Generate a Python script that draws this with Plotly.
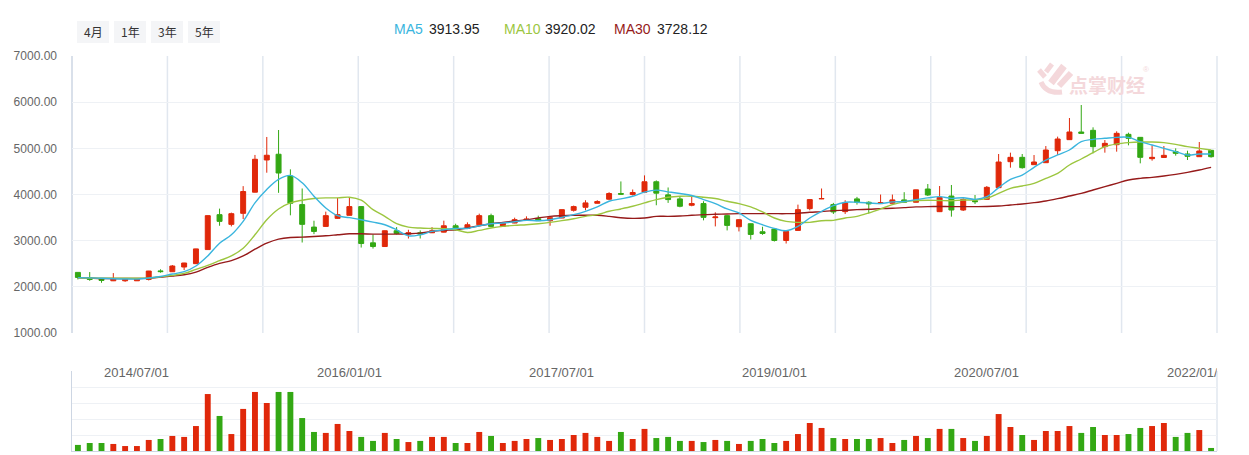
import plotly.graph_objects as go
import pandas as pd

# ---------------- data ----------------
months = [d.strftime("%Y/%m/01") for d in pd.date_range("2014-02-01", periods=97, freq="MS")]

open_ = [2313, 2197, 2168, 2131, 2131, 2131, 2160, 2345, 2327, 2429, 2502, 2807, 3563, 3353, 3592, 4050,
         4748, 4872, 4399, 3781, 3294, 3309, 3483, 3549, 3738, 2953, 2873, 3215, 3142, 3171, 3171, 3185,
         3323, 3265, 3345, 3542, 3309, 3382, 3440, 3476, 3433, 3491, 3658, 3723, 3810, 3898, 4021, 3999,
         4050, 4276, 3992, 3905, 3767, 3803, 3498, 3542, 3302, 3367, 3193, 3251, 3004, 3222, 3694, 3905,
         3781, 3629, 3905, 3832, 3803, 3810, 3883, 3832, 4119, 3628, 3967, 3664, 3866, 3895, 4148, 4711,
         4805, 4646, 4689, 4949, 5188, 5354, 5390, 5036, 5079, 5303, 5238, 4776, 4802, 4928, 4877, 4819,
         4957]
high = [2320, 2320, 2172, 2298, 2175, 2178, 2345, 2380, 2473, 2520, 2826, 3546, 3694, 3607, 4181, 4857,
        5246, 5397, 4545, 4130, 3432, 3629, 3927, 3941, 3745, 3135, 3220, 3294, 3236, 3222, 3294, 3433,
        3367, 3396, 3585, 3585, 3387, 3498, 3527, 3541, 3505, 3676, 3760, 3876, 3876, 4050, 4283, 4108,
        4414, 4305, 4152, 3963, 3948, 3854, 3614, 3550, 3460, 3372, 3302, 3256, 3229, 3781, 3895, 4130,
        3818, 3876, 3948, 3854, 3999, 3999, 4050, 4105, 4227, 4184, 4206, 3917, 3989, 4184, 4877, 4906,
        4877, 4855, 5050, 5253, 5657, 5938, 5455, 5180, 5368, 5339, 5243, 5065, 5050, 5000, 4949, 5137,
        4962]
low = [2160, 2131, 2088, 2125, 2109, 2128, 2138, 2306, 2322, 2364, 2498, 2803, 3323, 3309, 3469, 4045,
       4472, 4036, 3549, 2960, 3142, 3300, 3469, 3545, 2851, 2829, 2865, 3135, 3047, 3047, 3165, 3180,
       3222, 3260, 3340, 3290, 3300, 3378, 3435, 3428, 3323, 3487, 3630, 3658, 3805, 3876, 3992, 3978,
       4045, 3767, 3818, 3723, 3745, 3440, 3309, 3222, 3200, 3025, 3127, 2982, 2938, 3218, 3658, 3900,
       3578, 3578, 3781, 3600, 3798, 3805, 3828, 3828, 3967, 3620, 3520, 3643, 3794, 3890, 4143, 4581,
       4560, 4640, 4684, 4855, 5183, 5320, 4892, 4906, 4928, 5065, 4675, 4733, 4797, 4841, 4747, 4814,
       4798]
close = [2204, 2160, 2139, 2175, 2168, 2175, 2342, 2330, 2451, 2516, 2822, 3542, 3418, 3585, 4065, 4763,
         4850, 4465, 3810, 3353, 3200, 3542, 3563, 3738, 2938, 2873, 3215, 3156, 3171, 3142, 3215, 3323,
         3236, 3345, 3542, 3309, 3382, 3455, 3469, 3433, 3498, 3672, 3738, 3818, 3847, 4021, 4007, 4043,
         4276, 4029, 3890, 3745, 3803, 3505, 3513, 3331, 3455, 3135, 3156, 3004, 3200, 3672, 3890, 3912,
         3622, 3818, 3832, 3796, 3825, 3883, 3832, 4101, 3989, 3939, 3664, 3895, 3845, 4155, 4704, 4805,
         4581, 4704, 4964, 5202, 5354, 5325, 5036, 5108, 5325, 5217, 4805, 4805, 4848, 4892, 4827, 4942,
         4819]

ma5 = [2200, 2195, 2185, 2175, 2170, 2168, 2190, 2225, 2277, 2328, 2451, 2669, 2945, 3127, 3418, 3818,
       4109, 4327, 4414, 4254, 3963, 3709, 3542, 3498, 3454, 3403, 3345, 3236, 3105, 3127, 3200, 3236,
       3265, 3265, 3323, 3367, 3382, 3411, 3440, 3433, 3454, 3505, 3563, 3636, 3731, 3854, 3905, 3963,
       4050, 4094, 4058, 4021, 3978, 3890, 3803, 3687, 3600, 3440, 3345, 3265, 3215, 3309, 3491, 3636,
       3760, 3832, 3832, 3818, 3803, 3840, 3847, 3890, 3927, 3953, 3917, 3931, 3895, 3953, 4148, 4328,
       4422, 4588, 4747, 4856, 4964, 5144, 5195, 5217, 5238, 5238, 5144, 5072, 5000, 4928, 4856, 4877,
       4877]
ma10 = [2192, 2190, 2188, 2186, 2185, 2185, 2188, 2218, 2247, 2291, 2378, 2466, 2567, 2669, 2836, 3127,
        3454, 3687, 3818, 3876, 3912, 3927, 3927, 3941, 3876, 3672, 3527, 3367, 3294, 3273, 3265, 3258,
        3236, 3178, 3222, 3273, 3309, 3331, 3345, 3367, 3396, 3433, 3476, 3527, 3563, 3636, 3687, 3745,
        3818, 3890, 3941, 3963, 3963, 3941, 3912, 3854, 3803, 3731, 3622, 3491, 3418, 3396, 3396, 3433,
        3440, 3491, 3527, 3600, 3687, 3781, 3840, 3869, 3876, 3870, 3866, 3881, 3881, 3917, 4025, 4134,
        4184, 4242, 4350, 4458, 4639, 4769, 4906, 5036, 5094, 5123, 5137, 5137, 5123, 5087, 5036, 5000,
        4964]
ma30 = [2197, 2189, 2182, 2182, 2182, 2182, 2189, 2211, 2233, 2262, 2320, 2422, 2509, 2567, 2669, 2815,
        2945, 3033, 3069, 3076, 3091, 3105, 3127, 3149, 3149, 3142, 3142, 3142, 3149, 3164, 3200, 3222,
        3236, 3273, 3323, 3367, 3396, 3425, 3454, 3491, 3527, 3542, 3549, 3549, 3549, 3527, 3498, 3483,
        3491, 3527, 3527, 3534, 3549, 3563, 3571, 3578, 3585, 3585, 3585, 3585, 3585, 3592, 3614, 3629,
        3651, 3658, 3672, 3680, 3694, 3701, 3716, 3731, 3738, 3740, 3738, 3738, 3738, 3740, 3751, 3773,
        3794, 3823, 3859, 3910, 3967, 4025, 4097, 4170, 4242, 4314, 4350, 4372, 4401, 4437, 4480, 4531,
        4588]

volume = [0.38, 0.50, 0.50, 0.44, 0.31, 0.31, 0.69, 0.75, 0.94, 0.88, 1.56, 3.56, 2.19, 1.06, 2.63, 3.69,
          3.00, 3.69, 3.69, 2.06, 1.19, 1.13, 1.69, 1.25, 0.88, 0.63, 1.13, 0.75, 0.56, 0.63, 0.88, 0.88,
          0.50, 0.50, 1.19, 0.94, 0.50, 0.63, 0.75, 0.81, 0.69, 0.75, 1.00, 1.13, 0.88, 0.63, 1.19, 0.75,
          1.38, 0.81, 0.88, 0.63, 0.63, 0.56, 0.69, 0.63, 0.44, 0.63, 0.75, 0.50, 0.63, 1.06, 1.75, 1.44,
          0.81, 0.75, 0.75, 0.75, 0.81, 0.50, 0.69, 0.94, 0.81, 1.38, 1.38, 0.81, 0.63, 0.94, 2.31, 1.50,
          1.00, 0.69, 1.25, 1.25, 1.56, 1.13, 1.50, 1.00, 1.00, 1.06, 1.44, 1.56, 1.75, 0.88, 1.13, 1.31,
          0.19]

y_ticks = [1000, 2000, 3000, 4000, 5000, 6000, 7000]
label_idx = [5, 23, 41, 59, 77, 95]
buttons = ["4月", "1年", "3年", "5年"]
legend_items = [("MA5", "3913.95"), ("MA10", "3920.02"), ("MA30", "3728.12")]

# ---------------- style ----------------
RED = "#e0280a"
GREEN = "#33a814"
C_MA5 = "#3ab5de"
C_MA10 = "#9cc63f"
C_MA30 = "#961a1a"
GRID = "#eef1f5"
VGRID = "#e1e7ef"
AXIS = "#cdd6e3"
PINK = "#f4d8db"

W, H = 1249, 455
L, R, T, B = 72, 32, 56, 4
PW, PH = W - L - R, H - T - B


def px(xp):
    return (xp - L) / PW


def py(yp):
    return (H - B - yp) / PH


main_bottom = py(333)
vol_top = py(371)

x = list(range(len(close)))
vol_colors = [RED if c >= o else GREEN for o, c in zip(open_, close)]

fig = go.Figure()
fig.add_trace(go.Candlestick(
    x=x, open=open_, high=high, low=low, close=close,
    increasing=dict(line=dict(color=RED, width=1), fillcolor=RED),
    decreasing=dict(line=dict(color=GREEN, width=1), fillcolor=GREEN),
    whiskerwidth=0, showlegend=False, hoverinfo="skip",
    xaxis="x", yaxis="y"))
for vals, col in [(ma30, C_MA30), (ma10, C_MA10), (ma5, C_MA5)]:
    fig.add_trace(go.Scatter(x=x, y=vals, mode="lines",
                             line=dict(color=col, width=1.4, shape="spline", smoothing=1),
                             showlegend=False, hoverinfo="skip", xaxis="x", yaxis="y"))
fig.add_trace(go.Bar(x=x, y=volume, marker=dict(color=vol_colors, line=dict(width=0)),
                     width=0.5, showlegend=False, hoverinfo="skip", xaxis="x2", yaxis="y2"))

shapes = []
# vertical grid lines in main panel
for k in range(13):
    shapes.append(dict(type="line", xref="x domain", yref="y domain", x0=k / 12, x1=k / 12, y0=0, y1=1,
                       line=dict(color=AXIS if k == 0 else VGRID, width=1.5), layer="below"))
# volume right border
shapes.append(dict(type="line", xref="x2 domain", yref="y2 domain", x0=1, x1=1, y0=0, y1=1,
                   line=dict(color=VGRID, width=1.5), layer="below"))
# buttons
btn_x = [77, 114, 151, 188]
annotations = []
for bx, txt in zip(btn_x, buttons):
    shapes.append(dict(type="rect", xref="paper", yref="paper", x0=px(bx), x1=px(bx + 32),
                       y0=py(43), y1=py(21), fillcolor="#f4f5f7", line=dict(width=0), layer="below"))
    annotations.append(dict(xref="paper", yref="paper", x=px(bx + 16), y=py(32), text=txt, showarrow=False,
                            font=dict(family="Noto Sans CJK SC", size=12, color="#333333"),
                            xanchor="center", yanchor="middle"))

# watermark logo (stylised hand strokes)
for (x0, y0, x1, y1, w) in [(1064, 66, 1051, 83, 7), (1071, 73, 1059, 86, 6), (1039, 70, 1045, 77, 5),
                            (1052, 64, 1046, 72, 5)]:
    shapes.append(dict(type="line", xref="paper", yref="paper", x0=px(x0), y0=py(y0), x1=px(x1), y1=py(y1),
                       line=dict(color=PINK, width=w), layer="below"))
shapes.append(dict(type="path", xref="paper", yref="paper",
                   path=f"M {px(1041)},{py(82)} Q {px(1046)},{py(94)} {px(1062)},{py(92)}",
                   line=dict(color=PINK, width=5), layer="below"))

# MA legend header
leg_x = [(392, 427), (502, 543), (612, 655)]
for (name, val), (x1, x2), col in zip(legend_items, leg_x, [C_MA5, C_MA10, C_MA30]):
    annotations.append(dict(xref="paper", yref="paper", x=px(x1), y=py(29), text=name, showarrow=False,
                            font=dict(family="Liberation Sans", size=14, color=col),
                            xanchor="left", yanchor="middle"))
    annotations.append(dict(xref="paper", yref="paper", x=px(x2), y=py(29), text=val, showarrow=False,
                            font=dict(family="Liberation Sans", size=14, color="#222222"),
                            xanchor="left", yanchor="middle"))

# date labels
for i in label_idx:
    xc = L + (i + 0.5) * PW / len(close)
    if xc + 33 > L + PW:
        annotations.append(dict(xref="paper", yref="paper", x=px(xc - 33), y=py(372), text=months[i],
                                showarrow=False, xanchor="left", yanchor="middle", align="left",
                                width=L + PW - 1 - (xc - 33), borderpad=0,
                                font=dict(family="Liberation Sans", size=13, color="#666666")))
    else:
        annotations.append(dict(xref="paper", yref="paper", x=px(xc), y=py(372), text=months[i],
                                showarrow=False, xanchor="center", yanchor="middle",
                                font=dict(family="Liberation Sans", size=13, color="#666666")))

# watermark text
annotations.append(dict(xref="paper", yref="paper", x=px(1107), y=py(84), text="<b>点掌财经</b>",
                        showarrow=False, xanchor="center", yanchor="middle",
                        font=dict(family="Noto Sans CJK SC", size=19, color=PINK)))
annotations.append(dict(xref="paper", yref="paper", x=px(1146), y=py(70), text="®",
                        showarrow=False, xanchor="center", yanchor="middle",
                        font=dict(family="Liberation Sans", size=8, color=PINK)))

fig.update_layout(
    width=W, height=H, autosize=False,
    margin=dict(l=L, r=R, t=T, b=B, pad=0, autoexpand=False),
    paper_bgcolor="white", plot_bgcolor="white", hovermode=False, boxgap=0.4, bargap=0.5,
    showlegend=False, shapes=shapes, annotations=annotations,
    xaxis=dict(domain=[0, 1], anchor="y", range=[-0.5, len(close) - 0.5], showgrid=False,
               showticklabels=False, zeroline=False, rangeslider=dict(visible=False), showline=False),
    yaxis=dict(domain=[main_bottom, 1], anchor="x", range=[1000, 7000], tickvals=y_ticks,
               ticktext=[f"{v:.2f}" for v in y_ticks], showgrid=True, gridcolor=GRID, gridwidth=1,
               zeroline=False, showline=False, ticks="", ticklabelstandoff=14,
               tickfont=dict(family="Liberation Sans", size=12, color="#666666")),
    xaxis2=dict(domain=[0, 1], anchor="y2", range=[-0.5, len(close) - 0.5], showgrid=False,
                showticklabels=False, zeroline=False, showline=True, linecolor=AXIS, linewidth=1,
                matches="x", rangeslider=dict(visible=False)),
    yaxis2=dict(domain=[0, vol_top], anchor="x2", range=[0, 5], dtick=1, showgrid=True, gridcolor=GRID,
                zeroline=False, showticklabels=False, showline=True, linecolor=AXIS, linewidth=1, ticks=""),
)

fig.write_html("out.html")
